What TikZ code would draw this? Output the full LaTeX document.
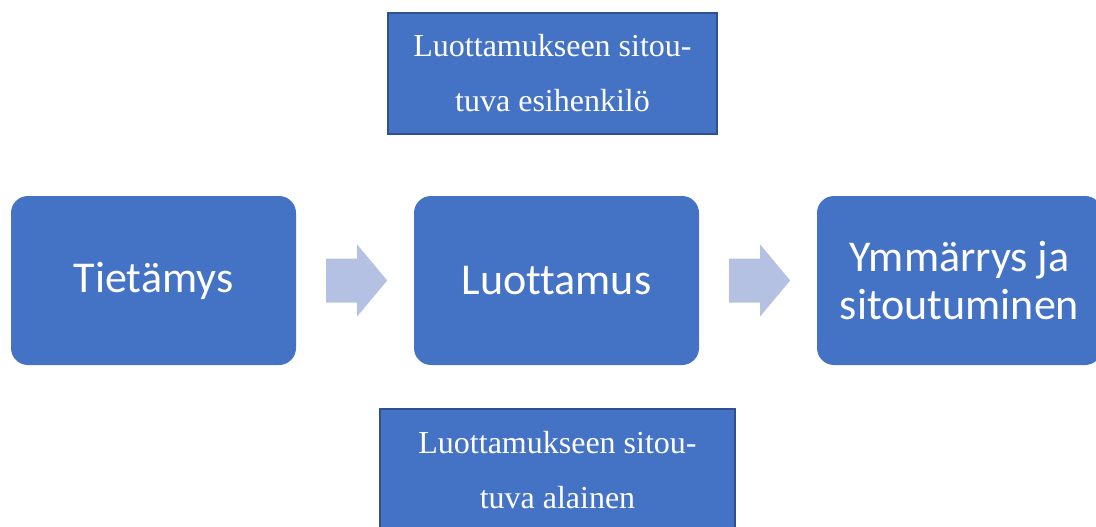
\documentclass[tikz,border=0pt]{standalone}
\usepackage{fontspec}
\setmainfont{Liberation Serif}
\newfontfamily\calib[Ligatures=NoCommon]{Carlito}
\definecolor{boxblue}{HTML}{4472C4}
\definecolor{boxedge}{HTML}{2F528F}
\definecolor{arrowblue}{HTML}{B4C1E2}
\tikzset{
  mainbox/.style={fill=boxblue, draw=none, rounded corners=17pt, minimum width=285pt, minimum height=169pt, inner sep=0pt, text=white, align=center, font=\calib\fontsize{44pt}{48pt}\selectfont},
  sidebox/.style={fill=boxblue, draw=boxedge, line width=2pt, inner sep=0pt, text=white, align=center, font=\fontsize{32pt}{55pt}\selectfont},
  blockarrow/.style={fill=arrowblue, draw=none}
}
\begin{document}
\begin{tikzpicture}[x=1pt,y=-1pt]
\useasboundingbox (0,0) rectangle (1096,527);
\clip (0,0) rectangle (1096,527);
\node[mainbox] (tie) at (153.5,280.5) {Tietämys};
\node[mainbox] (luo) at (556.5,280.5) {Luottamus};
\node[mainbox] (ymm) at (959.5,280.5) {Ymmärrys ja\\sitoutuminen};
\node[sidebox, minimum width=329pt, minimum height=121pt] (esi) at (552.5,73.5) {Luottamukseen sitou-\\tuva esihenkilö};
\node[sidebox, minimum width=355pt, minimum height=123pt] (ala) at (557.5,470.5) {Luottamukseen sitou-\\tuva alainen};
\fill[blockarrow] ([xshift=30pt,yshift=22pt]tie.east) -- ++(31,0) -- ++(0,-14) -- ++(30,36) -- ++(-30,36) -- ++(0,-14) -- ++(-31,0) -- cycle;
\fill[blockarrow] ([xshift=30pt,yshift=22pt]luo.east) -- ++(31,0) -- ++(0,-14) -- ++(30,36) -- ++(-30,36) -- ++(0,-14) -- ++(-31,0) -- cycle;
\end{tikzpicture}
\end{document}
